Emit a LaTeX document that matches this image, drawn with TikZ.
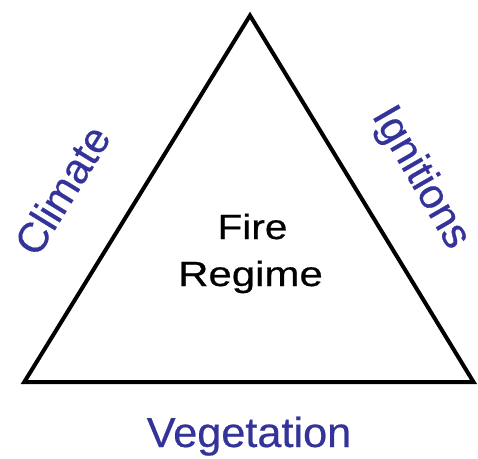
\documentclass[tikz,border=0pt]{standalone}
\usepackage{fontspec}
\setmainfont{Liberation Sans}
\newfontfamily\labelfont[FakeBold=0.5]{Liberation Sans}
\definecolor{labelblue}{RGB}{51,51,153}
\begin{document}
\begin{tikzpicture}[x=1pt,y=-1pt,
  sidelabel/.style={text=labelblue,font=\labelfont\fontsize{42}{48}\selectfont,inner sep=0pt},
  centerlabel/.style={text=black,font=\labelfont\fontsize{35}{40}\selectfont,inner sep=0pt,anchor=base},
  edge/.style={draw=black,line width=4pt,miter limit=10,line join=miter}]
\useasboundingbox (0,0) rectangle (478,458);
\coordinate (top) at (250,15.5);
\coordinate (bl) at (24.3,382);
\coordinate (br) at (473.5,382);
\draw[edge] (bl) -- (top) -- (br) -- cycle;
\node[centerlabel] (fire) at (252.5,239) {\scalebox{1.16}[1]{Fire}};
\node[centerlabel] (regime) at (250.5,286) {\scalebox{1.2}[1]{Regime}};
\node[sidelabel,anchor=base] (veg) at (249,447) {\scalebox{1.03}[1]{Vegetation}};
\node[sidelabel,rotate=58.4] (climate) at (62,190) {Climate};
\node[sidelabel,rotate=-60] (ign) at (420,178) {Ignitions};
\end{tikzpicture}
\end{document}
